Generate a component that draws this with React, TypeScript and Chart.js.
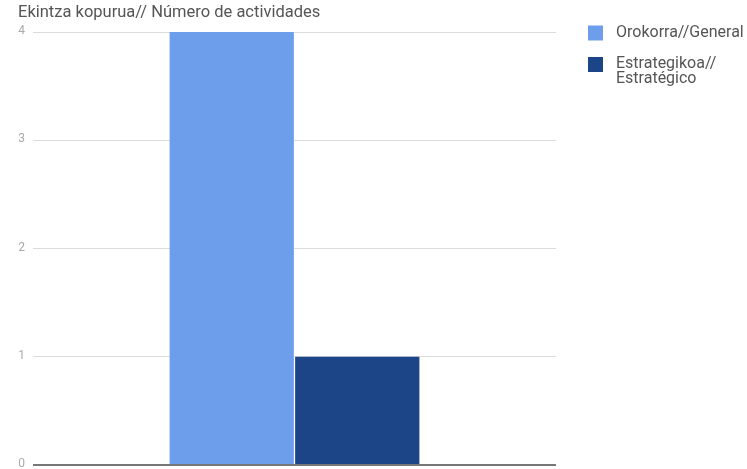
import React, { useEffect, useRef } from "react";
import { Chart, registerables } from "chart.js";

Chart.register(...registerables);

const titleText = "Ekintza kopurua// Número de actividades";
const categories = [""];
const seriesNames = [["Orokorra//General"], ["Estrategikoa//", "Estratégico"]];
const generalValues = [4];
const strategicValues = [1];
const seriesColors = ["#6d9eeb", "#1c4587"];
const yTicks = [0, 1, 2, 3, 4];

export default function App() {
  const ref = useRef<HTMLCanvasElement | null>(null);
  useEffect(() => {
    if (!ref.current) return;
    const overlay = {
      id: "overlay",
      afterDraw(chart: any) {
        const ctx = chart.ctx;
        const ys = chart.scales.y;
        ctx.save();
        ctx.textBaseline = "middle";
        ctx.fillStyle = "#aaa";
        ctx.font = "12px Roboto";
        ctx.textAlign = "right";
        yTicks.forEach((v) => ctx.fillText(String(v), 25, ys.getPixelForValue(v) - 1));
        ctx.textAlign = "left";
        ctx.fillStyle = "#555";
        ctx.font = "16.5px Roboto";
        ctx.fillText(titleText, 18, 13);
        ctx.font = "16px Roboto";
        const starts = [32.5, 64];
        seriesNames.forEach((lines, i) => {
          const y = starts[i];
          ctx.fillStyle = seriesColors[i];
          ctx.fillRect(588, y - 7, 15, 15);
          ctx.fillStyle = "#555";
          lines.forEach((l, j) => ctx.fillText(l, 616, y + j * 14.5));
        });
        ctx.restore();
      },
    };
    const chart = new Chart(ref.current, {
      type: "bar",
      data: {
        labels: categories,
        datasets: [
          { label: seriesNames[0].join(" "), data: generalValues, backgroundColor: seriesColors[0] },
          { label: seriesNames[1].join(" "), data: strategicValues, backgroundColor: seriesColors[1] },
        ],
      },
      options: {
        animation: false,
        responsive: false,
        layout: { padding: { top: 32, right: 191, bottom: 4, left: 0 } },
        plugins: { legend: { display: false }, title: { display: false }, tooltip: { enabled: false } },
        datasets: { bar: { categoryPercentage: 0.48, barPercentage: 0.99 } },
        scales: {
          x: { display: false },
          y: {
            min: 0,
            max: 4,
            afterFit: (s: any) => { s.width = 33; },
            afterBuildTicks: (s: any) => { s.ticks = yTicks.map((v) => ({ value: v })); },
            border: { display: false },
            grid: {
              drawTicks: false,
              color: (c: any) => (c.tick && c.tick.value === 0 ? "#777" : "#dcdcdc"),
              lineWidth: (c: any) => (c.tick && c.tick.value === 0 ? 2 : 1),
            },
            ticks: { display: false },
          },
        },
      },
      plugins: [overlay],
    });
    return () => chart.destroy();
  }, []);
  return (
    <div style={{ position: "fixed", left: 0, top: 0, width: 747, height: 469, background: "#fff" }}>
      <canvas ref={ref} width={747} height={469} />
    </div>
  );
}
